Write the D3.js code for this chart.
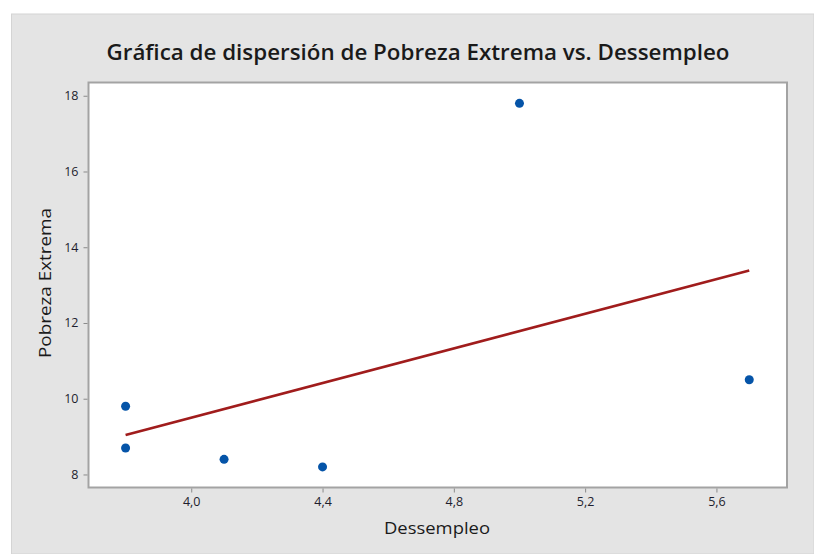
<!DOCTYPE html>
<html><head><meta charset="utf-8">
<script src="https://cdn.jsdelivr.net/npm/d3@7"></script>
<style>
html,body{margin:0;padding:0;background:#fff;}
svg{display:block;}
</style></head>
<body>
<script>
const desempleo = [3.8, 3.8, 4.1, 4.4, 5.0, 5.7];
const pobreza = [9.8, 8.7, 8.4, 8.2, 17.8, 10.5];
const xTicks = [4.0, 4.4, 4.8, 5.2, 5.6];
const yTicks = [8, 10, 12, 14, 16, 18];
const title = "Gráfica de dispersión de Pobreza Extrema vs. Dessempleo";
const xLabel = "Dessempleo";
const yLabel = "Pobreza Extrema";

const W = 814, H = 554;
const svg = d3.select("body").append("svg").attr("width", W).attr("height", H);
svg.append("rect").attr("x", 11.5).attr("y", 14).attr("width", W - 11.5).attr("height", H - 14)
  .attr("fill", "#e4e4e4").attr("stroke", "#d4d4d4").attr("stroke-width", 1);

const L = 88.5, R = 787, T = 82.5, B = 487.5;
const x = d3.scaleLinear().domain([3.687, 5.815]).range([L, R]);
const y = d3.scaleLinear().domain([7.656, 18.35]).range([B, T]);

svg.append("rect").attr("x", L).attr("y", T).attr("width", R - L).attr("height", B - T)
  .attr("fill", "#fff").attr("stroke", "#a3a3a3").attr("stroke-width", 2);

const fmt = d => d3.format(".1f")(d).replace(".", ",");
const xa = svg.append("g").attr("transform", `translate(0,${B + 1})`)
  .call(d3.axisBottom(x).tickValues(xTicks).tickFormat(fmt).tickSize(4).tickPadding(5));
const ya = svg.append("g").attr("transform", `translate(${L - 1},0)`)
  .call(d3.axisLeft(y).tickValues(yTicks).tickFormat(d3.format("d")).tickSize(4).tickPadding(5));
[xa, ya].forEach(a => {
  a.select(".domain").remove();
  a.selectAll(".tick line").attr("stroke", "#8a8a8a");
  a.selectAll(".tick text").attr("fill", "#1e1e2e").attr("font-family", "'Open Sans', sans-serif")
    .attr("font-size", 12.5);
});

// regression line
const n = desempleo.length;
const mx = d3.mean(desempleo), my = d3.mean(pobreza);
let sxy = 0, sxx = 0;
for (let i = 0; i < n; i++) { sxy += (desempleo[i] - mx) * (pobreza[i] - my); sxx += (desempleo[i] - mx) ** 2; }
const b1 = sxy / sxx, b0 = my - b1 * mx;
const [xmin, xmax] = d3.extent(desempleo);
svg.append("line").attr("x1", x(xmin)).attr("y1", y(b0 + b1 * xmin))
  .attr("x2", x(xmax)).attr("y2", y(b0 + b1 * xmax))
  .attr("stroke", "#a01c1c").attr("stroke-width", 2.6);

svg.append("g").selectAll("circle").data(desempleo).join("circle")
  .attr("cx", d => x(d)).attr("cy", (d, i) => y(pobreza[i])).attr("r", 4.5)
  .attr("fill", "#0554a8");

const t = svg.append("text").attr("x", 418).attr("y", 60).attr("text-anchor", "middle")
  .attr("font-family", "'Open Sans', sans-serif").attr("font-weight", 600).attr("font-size", 22)
  .attr("fill", "#1a1a1a").text(title);
t.attr("textLength", 623).attr("lengthAdjust", "spacingAndGlyphs");

svg.append("text").attr("x", 437).attr("y", 534).attr("text-anchor", "middle")
  .attr("font-family", "'Open Sans', sans-serif").attr("font-size", 17).attr("fill", "#1a1a1a")
  .attr("textLength", 106).attr("lengthAdjust", "spacingAndGlyphs").text(xLabel);
svg.append("text").attr("transform", "translate(51,283) rotate(-90)").attr("text-anchor", "middle")
  .attr("font-family", "'Open Sans', sans-serif").attr("font-size", 17).attr("fill", "#1a1a1a")
  .attr("textLength", 150).attr("lengthAdjust", "spacingAndGlyphs").text(yLabel);
</script>
</body></html>
